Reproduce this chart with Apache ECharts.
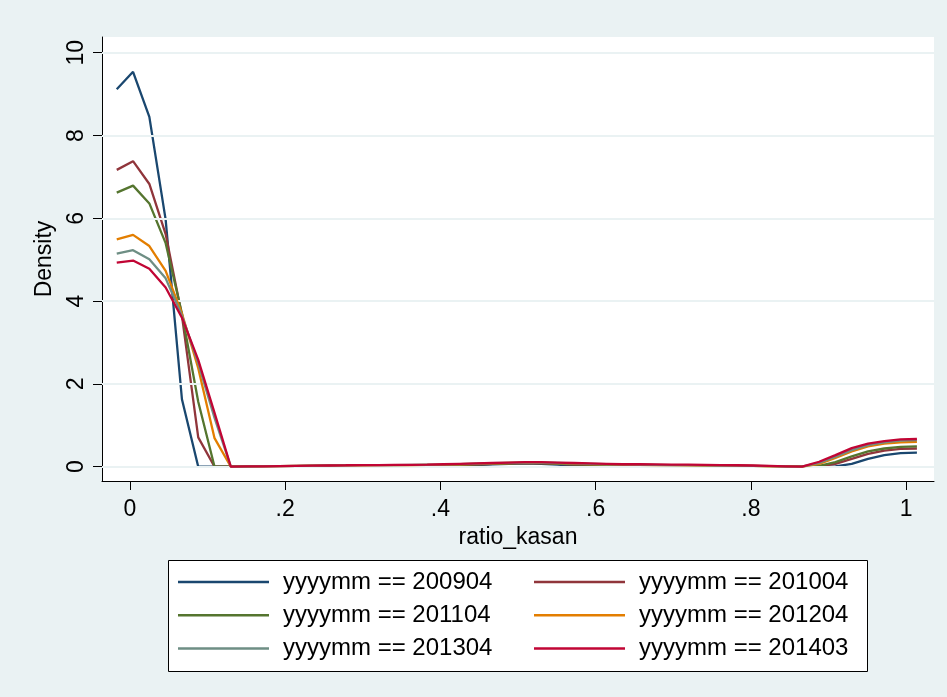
<!DOCTYPE html>
<html>
<head>
<meta charset="utf-8">
<script src="https://cdn.jsdelivr.net/npm/echarts@6/dist/echarts.min.js"></script>
<style>
html,body{margin:0;padding:0;background:#EAF2F3;}
#chart{width:947px;height:697px;}
</style>
</head>
<body>
<div id="chart"></div>
<script>
// kdensity evaluation grid (ratio_kasan)
const xGrid = [-0.017,0.004,0.025,0.046,0.067,0.088,0.109,0.130,0.151,0.172,0.193,0.214,0.235,0.256,0.278,0.299,0.320,0.341,0.362,0.383,0.404,0.425,0.446,0.467,0.488,0.509,0.530,0.551,0.572,0.593,0.614,0.635,0.656,0.677,0.698,0.719,0.740,0.761,0.782,0.803,0.824,0.845,0.866,0.888,0.909,0.930,0.951,0.972,0.993,1.014];

const seriesNames = ['yyyymm == 200904','yyyymm == 201004','yyyymm == 201104','yyyymm == 201204','yyyymm == 201304','yyyymm == 201403'];

const d200904 = [9.12,9.54,8.45,5.97,1.63,0,0,
  0,0,0,0,0,0,0,0,0,0,0,0,0,
  0.005,0.02,0.04,0.06,0.07,0.08,0.07,0.05,0.02,0.005,
  0,0,0,0,0,0,0,0,0,0,0,0,0,0,
  0.01,0.07,0.19,0.28,0.33,0.34];
const d201004 = [7.17,7.38,6.83,5.62,3.65,0.71,0,
  0,0,0,0,0.005,0.01,0.01,0.015,0.02,0.02,0.02,0.02,0.025,
  0.03,0.04,0.05,0.07,0.08,0.09,0.08,0.07,0.05,0.04,
  0.03,0.03,0.025,0.02,0.02,0.02,0.015,0.01,0.01,0.005,0,0,
  0,0.01,0.07,0.19,0.31,0.39,0.43,0.44];
const d201104 = [6.62,6.79,6.36,5.40,3.7,1.57,0,
  0,0.005,0.01,0.01,0.015,0.02,0.02,0.025,0.03,0.03,0.03,0.03,0.035,
  0.04,0.05,0.06,0.07,0.08,0.09,0.085,0.075,0.06,0.05,
  0.045,0.04,0.035,0.03,0.03,0.025,0.02,0.02,0.015,0.01,0.005,0,
  0,0.02,0.11,0.25,0.37,0.44,0.48,0.49];
const d201204 = [5.49,5.60,5.33,4.73,3.7,2.38,0.69,
  0,0.005,0.01,0.015,0.02,0.025,0.03,0.035,0.035,0.04,0.04,0.04,0.045,
  0.05,0.06,0.07,0.08,0.09,0.1,0.095,0.085,0.075,0.065,
  0.055,0.05,0.045,0.04,0.04,0.035,0.03,0.03,0.025,0.02,0.01,0.005,
  0,0.07,0.21,0.37,0.49,0.56,0.59,0.60];
const d201304 = [5.15,5.23,5.01,4.55,3.65,2.5,1.18,
  0,0.005,0.01,0.015,0.02,0.025,0.03,0.035,0.04,0.04,0.04,0.045,0.05,
  0.055,0.065,0.075,0.085,0.095,0.1,0.1,0.09,0.08,0.07,
  0.06,0.055,0.05,0.045,0.04,0.04,0.035,0.03,0.025,0.02,0.015,0.005,
  0,0.09,0.24,0.40,0.52,0.59,0.63,0.64];
const d201403 = [4.93,4.98,4.78,4.33,3.6,2.58,1.30,
  0,0.01,0.01,0.015,0.02,0.025,0.03,0.035,0.04,0.04,0.045,0.045,0.05,
  0.06,0.07,0.08,0.09,0.1,0.11,0.11,0.1,0.09,0.08,
  0.07,0.06,0.06,0.055,0.05,0.05,0.045,0.04,0.035,0.03,0.02,0.01,
  0,0.12,0.28,0.45,0.56,0.62,0.66,0.67];

const xTicks = [0,0.2,0.4,0.6,0.8,1];
const xTickLabels = ['0','.2','.4','.6','.8','1'];
const yTicks = [0,2,4,6,8,10];

const colors = ['#1A476F','#90353B','#55752F','#E37E00','#6E8E84','#C10534'];
const allData = [d200904,d201004,d201104,d201204,d201304,d201403];

const FONT = '"Liberation Sans", Arial, Helvetica, sans-serif';

const chart = echarts.init(document.getElementById('chart'), null, {renderer:'canvas'});

const series = [{
  type:'line', name:'__grid', data:[], silent:true, z:1,
  markLine:{
    silent:true, symbol:['none','none'], label:{show:false},
    lineStyle:{color:'#EAF2F3', width:2, type:'solid'},
    emphasis:{disabled:true},
    data: yTicks.map(v => ({yAxis:v}))
  }
}];
allData.forEach((arr,i) => {
  series.push({
    type:'line', name:seriesNames[i], z:2+i,
    data: arr.map((v,j) => [xGrid[j], v]),
    showSymbol:false, symbol:'none', smooth:false,
    lineStyle:{color:colors[i], width:2.3},
    itemStyle:{color:colors[i]},
    emphasis:{disabled:true}
  });
});

const legendCommon = {
  orient:'vertical', icon:'rect', itemWidth:91, itemHeight:2.5, itemGap:9.3,
  padding:0,
  selectedMode:false,
  textStyle:{fontFamily:FONT, fontSize:24, color:'#000', lineHeight:24, padding:[0,0,0,9]}
};

chart.setOption({
  animation:false,
  backgroundColor:'#EAF2F3',
  color:colors,
  textStyle:{fontFamily:FONT},
  grid:{left:102, right:13, top:37, bottom:216, show:true, backgroundColor:'#FFFFFF', borderWidth:0},
  xAxis:{
    type:'value', min:-0.036, max:1.036,
    name:'ratio_kasan', nameLocation:'middle', nameGap:44,
    nameTextStyle:{fontFamily:FONT, fontSize:23, color:'#000'},
    axisLine:{show:true, onZero:false, lineStyle:{color:'#000', width:1}},
    axisTick:{show:true, length:9, customValues:xTicks, lineStyle:{color:'#000', width:1}},
    axisLabel:{show:true, customValues:xTicks, margin:17, fontFamily:FONT, fontSize:23, color:'#000',
      formatter: v => { const k = xTicks.findIndex(t => Math.abs(t - v) < 1e-9); return k >= 0 ? xTickLabels[k] : ''; }},
    splitLine:{show:false}
  },
  yAxis:{
    type:'value', min:-0.345, max:10.38,
    name:'Density', nameLocation:'middle', nameGap:46,
    nameTextStyle:{fontFamily:FONT, fontSize:23, color:'#000'},
    axisLine:{show:true, onZero:false, lineStyle:{color:'#000', width:1}},
    axisTick:{show:true, length:9, customValues:yTicks, lineStyle:{color:'#000', width:1}},
    axisLabel:{show:true, customValues:yTicks, rotate:90, margin:14, fontFamily:FONT, fontSize:23, color:'#000'},
    splitLine:{show:false}
  },
  legend:[
    Object.assign({left:178, top:570, data:[seriesNames[0],seriesNames[2],seriesNames[4]]}, legendCommon),
    Object.assign({left:534, top:570, data:[seriesNames[1],seriesNames[3],seriesNames[5]]}, legendCommon)
  ],
  graphic:[{
    type:'rect', left:168, top:560, z:-1,
    shape:{width:699, height:111},
    style:{fill:'#FFFFFF', stroke:'#000', lineWidth:1}
  }],
  series: series
});
</script>
</body>
</html>
